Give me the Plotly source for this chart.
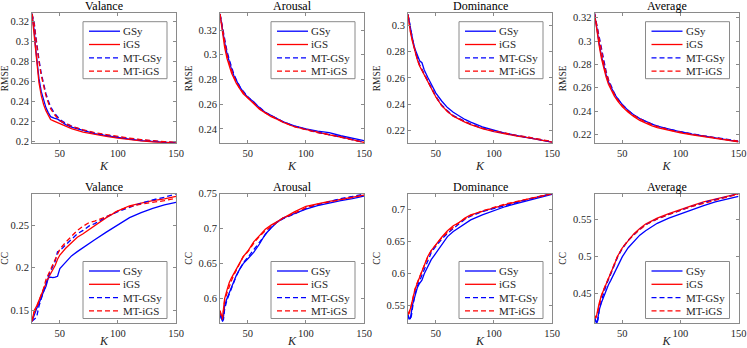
import plotly.graph_objects as go

# ---- data ----
series_names = ['GSy', 'iGS', 'MT-GSy', 'MT-iGS']
titles = ['Valance', 'Arousal', 'Dominance', 'Average']

k_rmse_val = [26, 28, 29, 30, 32, 34, 36, 38, 40, 42, 45, 48, 50, 55, 60, 70, 80, 90, 100, 110, 120, 130, 140, 150]
k_rmse = [26, 28, 30, 32, 34, 36, 38, 40, 43, 46, 50, 55, 60, 65, 70, 75, 80, 90, 100, 110, 120, 130, 140, 150]
k_cc_val = [26, 28, 30, 32, 34, 36, 38, 40, 42, 44, 46, 48, 50, 55, 60, 65, 70, 75, 80, 90, 100, 110, 120, 130, 140, 150]
k_cc = [26, 27, 28, 29, 30, 32, 34, 36, 38, 40, 43, 46, 50, 55, 60, 65, 70, 75, 80, 90, 100, 110, 120, 130, 140, 150]

# RMSE - Valance
rmse_val_gsy = [0.328, 0.31, 0.295, 0.282, 0.263, 0.25, 0.241, 0.234, 0.229, 0.225, 0.2235, 0.2225, 0.221, 0.217, 0.2145, 0.211, 0.208, 0.206, 0.204, 0.2025, 0.201, 0.200, 0.1995, 0.1985]
rmse_val_igs = [0.328, 0.305, 0.29, 0.278, 0.259, 0.246, 0.237, 0.231, 0.226, 0.222, 0.2205, 0.219, 0.2175, 0.215, 0.213, 0.2095, 0.207, 0.2052, 0.2035, 0.202, 0.2008, 0.1998, 0.1992, 0.1988]
rmse_val_mtgsy = [0.328, 0.318, 0.308, 0.298, 0.282, 0.268, 0.257, 0.248, 0.241, 0.235, 0.229, 0.2245, 0.222, 0.2185, 0.2155, 0.2115, 0.2085, 0.2063, 0.2045, 0.203, 0.2017, 0.2005, 0.1997, 0.199]
rmse_val_mtigs = [0.328, 0.317, 0.306, 0.296, 0.280, 0.266, 0.255, 0.246, 0.239, 0.233, 0.2275, 0.2235, 0.221, 0.218, 0.2155, 0.2118, 0.209, 0.207, 0.205, 0.2035, 0.202, 0.2008, 0.2, 0.1993]

# RMSE - Arousal
rmse_aro_gsy = [0.333, 0.321, 0.31, 0.301, 0.294, 0.288, 0.283, 0.279, 0.274, 0.270, 0.2655, 0.262, 0.257, 0.2535, 0.251, 0.2485, 0.246, 0.2425, 0.240, 0.2382, 0.237, 0.2345, 0.2325, 0.2305]
rmse_aro_igs = [0.333, 0.318, 0.306, 0.297, 0.290, 0.285, 0.281, 0.277, 0.2725, 0.2685, 0.265, 0.2605, 0.256, 0.253, 0.250, 0.248, 0.2455, 0.2418, 0.2395, 0.237, 0.2352, 0.2335, 0.2315, 0.2292]
rmse_aro_mtgsy = [0.333, 0.323, 0.312, 0.303, 0.296, 0.29, 0.284, 0.280, 0.2745, 0.2705, 0.266, 0.2615, 0.2572, 0.2535, 0.2508, 0.2485, 0.246, 0.2422, 0.2395, 0.2372, 0.2355, 0.2335, 0.2312, 0.2293]
rmse_aro_mtigs = [0.333, 0.321, 0.309, 0.300, 0.293, 0.287, 0.282, 0.278, 0.273, 0.2695, 0.2652, 0.261, 0.2565, 0.253, 0.2505, 0.2482, 0.2458, 0.2418, 0.2393, 0.237, 0.2355, 0.2332, 0.231, 0.2290]

# RMSE - Dominance
rmse_dom_gsy = [0.308, 0.298, 0.289, 0.282, 0.277, 0.273, 0.2715, 0.266, 0.2605, 0.255, 0.2485, 0.2425, 0.2375, 0.234, 0.231, 0.2285, 0.2265, 0.2228, 0.2203, 0.218, 0.2163, 0.2148, 0.2132, 0.2113]
rmse_dom_igs = [0.308, 0.295, 0.287, 0.280, 0.274, 0.269, 0.2655, 0.2625, 0.2575, 0.252, 0.2455, 0.239, 0.2345, 0.231, 0.2285, 0.2265, 0.2245, 0.2215, 0.2193, 0.2175, 0.2158, 0.2145, 0.2128, 0.2113]
rmse_dom_mtgsy = [0.308, 0.297, 0.289, 0.281, 0.275, 0.270, 0.2665, 0.263, 0.258, 0.2525, 0.246, 0.2395, 0.235, 0.2315, 0.229, 0.227, 0.225, 0.222, 0.2197, 0.2178, 0.2162, 0.2148, 0.2133, 0.2115]
rmse_dom_mtigs = [0.308, 0.296, 0.288, 0.280, 0.274, 0.2695, 0.266, 0.2625, 0.2575, 0.252, 0.2455, 0.239, 0.2345, 0.231, 0.2287, 0.2268, 0.2248, 0.2218, 0.2198, 0.218, 0.2163, 0.215, 0.2135, 0.2117]

# RMSE - Average
rmse_avg_gsy = [0.3238, 0.31, 0.298, 0.287, 0.278, 0.271, 0.265, 0.2605, 0.255, 0.2505, 0.2455, 0.2405, 0.2365, 0.2335, 0.231, 0.229, 0.227, 0.2243, 0.2222, 0.2202, 0.2185, 0.217, 0.2155, 0.2138]
rmse_avg_igs = [0.3238, 0.308, 0.296, 0.285, 0.276, 0.269, 0.263, 0.2585, 0.253, 0.2485, 0.2435, 0.239, 0.235, 0.232, 0.2295, 0.2275, 0.2258, 0.2232, 0.2212, 0.2195, 0.218, 0.2165, 0.2152, 0.2135]
rmse_avg_mtgsy = [0.3238, 0.314, 0.303, 0.292, 0.282, 0.274, 0.267, 0.262, 0.2555, 0.2505, 0.2455, 0.2405, 0.2365, 0.2335, 0.231, 0.229, 0.2272, 0.2243, 0.2222, 0.2203, 0.2187, 0.2172, 0.2157, 0.2142]
rmse_avg_mtigs = [0.3238, 0.313, 0.302, 0.291, 0.281, 0.273, 0.266, 0.2605, 0.2545, 0.2495, 0.2445, 0.2398, 0.236, 0.233, 0.2305, 0.2285, 0.2267, 0.2238, 0.2218, 0.22, 0.2185, 0.217, 0.2155, 0.214]

# CC - Valance
cc_val_gsy = [0.137, 0.145, 0.152, 0.158, 0.166, 0.172, 0.178, 0.188, 0.189, 0.1885, 0.189, 0.19, 0.199, 0.207, 0.214, 0.219, 0.224, 0.228, 0.233, 0.242, 0.251, 0.259, 0.265, 0.270, 0.274, 0.277]
cc_val_igs = [0.137, 0.15, 0.155, 0.162, 0.168, 0.175, 0.182, 0.188, 0.193, 0.198, 0.203, 0.210, 0.215, 0.223, 0.230, 0.236, 0.240, 0.245, 0.250, 0.259, 0.267, 0.273, 0.276, 0.279, 0.281, 0.284]
cc_val_mtgsy = [0.137, 0.14, 0.142, 0.155, 0.165, 0.172, 0.180, 0.190, 0.196, 0.203, 0.208, 0.219, 0.220, 0.227, 0.234, 0.240, 0.244, 0.249, 0.252, 0.260, 0.266, 0.271, 0.276, 0.280, 0.283, 0.287]
cc_val_mtigs = [0.137, 0.148, 0.153, 0.160, 0.168, 0.176, 0.186, 0.192, 0.198, 0.205, 0.211, 0.216, 0.222, 0.230, 0.237, 0.244, 0.249, 0.253, 0.255, 0.260, 0.267, 0.272, 0.275, 0.277, 0.279, 0.282]

# CC - Arousal
cc_aro_gsy = [0.577, 0.572, 0.568, 0.574, 0.590, 0.600, 0.609, 0.617, 0.625, 0.633, 0.642, 0.650, 0.657, 0.666, 0.678, 0.692, 0.701, 0.709, 0.715, 0.722, 0.728, 0.733, 0.737, 0.740, 0.743, 0.7465]
cc_aro_igs = [0.583, 0.575, 0.571, 0.585, 0.600, 0.612, 0.623, 0.630, 0.636, 0.642, 0.651, 0.660, 0.668, 0.681, 0.690, 0.699, 0.705, 0.710, 0.715, 0.724, 0.732, 0.736, 0.739, 0.742, 0.745, 0.748]
cc_aro_mtgsy = [0.578, 0.572, 0.567, 0.570, 0.585, 0.598, 0.607, 0.615, 0.623, 0.632, 0.642, 0.651, 0.659, 0.670, 0.680, 0.692, 0.702, 0.709, 0.714, 0.721, 0.729, 0.734, 0.739, 0.743, 0.746, 0.7495]
cc_aro_mtigs = [0.582, 0.574, 0.570, 0.582, 0.597, 0.608, 0.618, 0.626, 0.634, 0.640, 0.650, 0.660, 0.667, 0.679, 0.689, 0.697, 0.703, 0.709, 0.715, 0.722, 0.730, 0.735, 0.738, 0.742, 0.745, 0.748]

# CC - Dominance
cc_dom_gsy = [0.535, 0.530, 0.530, 0.540, 0.552, 0.565, 0.578, 0.585, 0.590, 0.600, 0.612, 0.622, 0.632, 0.645, 0.658, 0.666, 0.672, 0.679, 0.684, 0.692, 0.699, 0.705, 0.710, 0.715, 0.720, 0.724]
cc_dom_igs = [0.537, 0.540, 0.545, 0.552, 0.560, 0.575, 0.585, 0.595, 0.604, 0.613, 0.627, 0.636, 0.646, 0.657, 0.667, 0.675, 0.680, 0.687, 0.692, 0.698, 0.703, 0.708, 0.713, 0.717, 0.721, 0.725]
cc_dom_mtgsy = [0.536, 0.529, 0.528, 0.535, 0.548, 0.568, 0.580, 0.589, 0.598, 0.608, 0.622, 0.633, 0.643, 0.654, 0.663, 0.671, 0.678, 0.685, 0.690, 0.697, 0.702, 0.707, 0.712, 0.716, 0.721, 0.725]
cc_dom_mtigs = [0.536, 0.538, 0.544, 0.552, 0.560, 0.576, 0.586, 0.595, 0.604, 0.612, 0.626, 0.636, 0.645, 0.656, 0.665, 0.673, 0.680, 0.686, 0.691, 0.698, 0.704, 0.709, 0.713, 0.717, 0.721, 0.725]

# CC - Average
cc_avg_gsy = [0.418, 0.414, 0.409, 0.418, 0.428, 0.438, 0.447, 0.455, 0.462, 0.468, 0.477, 0.488, 0.500, 0.512, 0.521, 0.529, 0.535, 0.540, 0.545, 0.552, 0.558, 0.564, 0.569, 0.574, 0.578, 0.5815]
cc_avg_igs = [0.420, 0.418, 0.422, 0.430, 0.437, 0.448, 0.456, 0.464, 0.471, 0.478, 0.489, 0.501, 0.512, 0.522, 0.531, 0.538, 0.544, 0.548, 0.552, 0.558, 0.564, 0.569, 0.574, 0.578, 0.581, 0.585]
cc_avg_mtgsy = [0.418, 0.413, 0.410, 0.415, 0.427, 0.441, 0.452, 0.461, 0.469, 0.476, 0.488, 0.500, 0.511, 0.522, 0.530, 0.537, 0.543, 0.547, 0.551, 0.557, 0.563, 0.568, 0.573, 0.577, 0.581, 0.585]
cc_avg_mtigs = [0.420, 0.417, 0.420, 0.428, 0.436, 0.447, 0.456, 0.463, 0.471, 0.478, 0.490, 0.501, 0.512, 0.522, 0.530, 0.537, 0.543, 0.547, 0.551, 0.557, 0.563, 0.568, 0.572, 0.576, 0.580, 0.5845]

# panel list: (k, [gsy, igs, mtgsy, mtigs], ylabel, yrange, dtick)
panels = [
    (k_rmse_val, [rmse_val_gsy, rmse_val_igs, rmse_val_mtgsy, rmse_val_mtigs], 'RMSE', [0.1983, 0.3284], 0.02),
    (k_rmse, [rmse_aro_gsy, rmse_aro_igs, rmse_aro_mtgsy, rmse_aro_mtigs], 'RMSE', [0.2284, 0.3335], 0.02),
    (k_rmse, [rmse_dom_gsy, rmse_dom_igs, rmse_dom_mtgsy, rmse_dom_mtigs], 'RMSE', [0.2104, 0.309], 0.02),
    (k_rmse, [rmse_avg_gsy, rmse_avg_igs, rmse_avg_mtgsy, rmse_avg_mtigs], 'RMSE', [0.2123, 0.3238], 0.02),
    (k_cc_val, [cc_val_gsy, cc_val_igs, cc_val_mtgsy, cc_val_mtigs], 'CC', [0.135, 0.2872], 0.05),
    (k_cc, [cc_aro_gsy, cc_aro_igs, cc_aro_mtgsy, cc_aro_mtigs], 'CC', [0.565, 0.75], 0.05),
    (k_cc, [cc_dom_gsy, cc_dom_igs, cc_dom_mtgsy, cc_dom_mtigs], 'CC', [0.523, 0.725], 0.05),
    (k_cc, [cc_avg_gsy, cc_avg_igs, cc_avg_mtgsy, cc_avg_mtigs], 'CC', [0.4104, 0.585], 0.05),
]

colors = ['#0000ff', '#ff0000', '#0000ff', '#ff0000']
dashes = ['solid', 'solid', '5px,3px', '5px,3px']

W, H = 747, 348
FONT = 'Times New Roman, Liberation Serif, Times, serif'
AXCOL = '#8a8a8a'
TXTCOL = '#262626'

col_left = [32, 220, 408, 594.5]
plot_w = 144
row_top = [13.3, 193.7]
row_bot = [143.3, 323]

fig = go.Figure()
layout = dict(
    width=W, height=H,
    margin=dict(l=0, r=0, t=0, b=0),
    paper_bgcolor='white', plot_bgcolor='white',
    font=dict(family=FONT, size=10, color=TXTCOL),
    showlegend=False,
)
annotations = []
shapes = []

for i, (k, ys, ylab, yr, dt) in enumerate(panels):
    r, c = divmod(i, 4)
    n = i + 1
    xa = 'xaxis' if n == 1 else f'xaxis{n}'
    ya = 'yaxis' if n == 1 else f'yaxis{n}'
    xref = 'x' if n == 1 else f'x{n}'
    yref = 'y' if n == 1 else f'y{n}'

    for s in range(4):
        fig.add_trace(go.Scatter(
            x=k, y=ys[s], mode='lines', name=series_names[s],
            line=dict(color=colors[s], width=1.3, dash=dashes[s]),
            xaxis=xref, yaxis=yref,
        ))

    x0 = col_left[c] / W
    x1 = (col_left[c] + plot_w) / W
    y0 = 1 - row_bot[r] / H
    y1 = 1 - row_top[r] / H
    plot_h = row_bot[r] - row_top[r]

    common = dict(
        showline=True, linecolor=AXCOL, linewidth=1, mirror='ticks',
        ticks='inside', ticklen=3, tickcolor=AXCOL, showgrid=False, zeroline=False,
        tickfont=dict(family=FONT, size=10.5, color=TXTCOL), automargin=False,
        ticklabeloverflow='allow',
    )
    layout[xa] = dict(
        domain=[x0, x1], anchor=yref, range=[26, 150],
        tickvals=[50, 100, 150],
        title=dict(text='<i>K</i>', font=dict(family=FONT, size=12, color=TXTCOL), standoff=3),
        **common,
    )
    layout[ya] = dict(
        domain=[y0, y1], anchor=xref, range=yr, dtick=dt,
        title=dict(text=ylab, font=dict(family=FONT, size=9.5, color=TXTCOL), standoff=4),
        **common,
    )

    xd = f'{xref} domain'
    yd = f'{yref} domain'
    annotations.append(dict(
        text=titles[c], xref=xd, yref=yd,
        x=0.5, y=1, xanchor='center', yanchor='bottom', yshift=-2, showarrow=False,
        font=dict(family=FONT, size=12, color='black'),
    ))

    # legend box drawn inside each panel (MATLAB style)
    box_r = plot_w - 9
    box_l = box_r - 84
    if r == 0:
        box_t = 8.4
    else:
        box_t = plot_h - 4.5 - 57
    box_b = box_t + 57

    def fx(px):
        return px / plot_w

    def fy(py):
        return 1 - py / plot_h

    shapes.append(dict(
        type='rect', xref=xd, yref=yd, x0=fx(box_l), x1=fx(box_r), y0=fy(box_b), y1=fy(box_t),
        line=dict(color=AXCOL, width=1), fillcolor='white', layer='above',
    ))
    for s in range(4):
        yy = box_t + 9.5 + 13.3 * s
        shapes.append(dict(
            type='line', xref=xd, yref=yd, x0=fx(box_l + 6), x1=fx(box_l + 37), y0=fy(yy), y1=fy(yy),
            line=dict(color=colors[s], width=1.3, dash=dashes[s]), layer='above',
        ))
        annotations.append(dict(
            text=series_names[s], xref=xd, yref=yd, x=fx(box_l + 38), y=fy(yy),
            xanchor='left', yanchor='middle', showarrow=False,
            font=dict(family=FONT, size=11, color=TXTCOL),
        ))

layout['annotations'] = annotations
layout['shapes'] = shapes
fig.update_layout(**layout)

# drop the browser's default 8px body margin so the figure sits at the page corner
fig.write_html('out.html', config={'displayModeBar': False},
               post_script="document.body.style.margin='0';")
